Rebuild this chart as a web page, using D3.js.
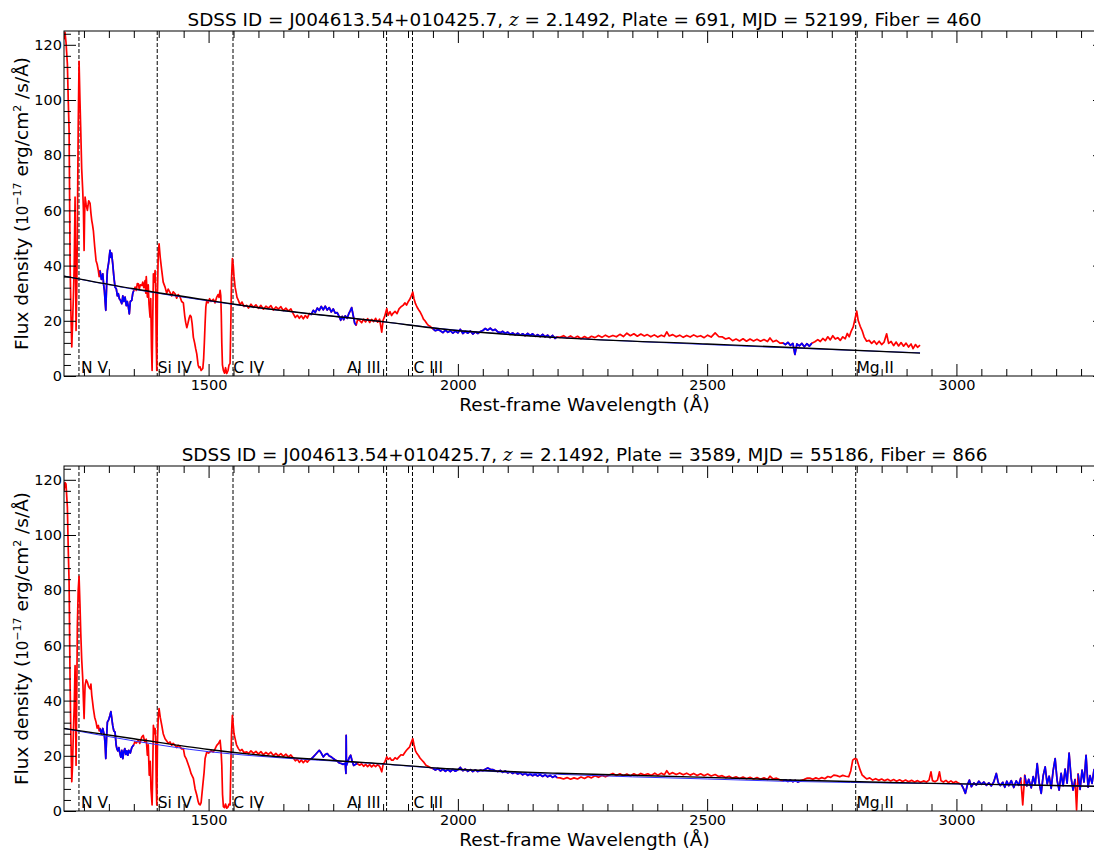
<!DOCTYPE html>
<html>
<head>
<meta charset="utf-8">
<script src="https://cdn.jsdelivr.net/npm/d3@7"></script>
<style>
  html, body { margin: 0; padding: 0; background: #fff; overflow: hidden; }
  svg { display: block; font-family: "DejaVu Sans", sans-serif; }
</style>
</head>
<body>
<svg id="chart" width="1094" height="850"></svg>
<script>
// ---------------- DATA ----------------
const sdssId = "J004613.54+010425.7";
const redshift = "2.1492";
const plates = ["691", "3589"];
const mjds = ["52199", "55186"];
const fibers = ["460", "866"];

const xMajorTicks = [1500, 2000, 2500, 3000];
const yMajorTicks = [0, 20, 40, 60, 80, 100, 120];

const lineNames = ["N V", "Si IV", "C IV", "Al III", "C III", "Mg II"];
const lineWaves = [1240, 1397, 1549, 1857, 1909, 2798];
const lineLabelWaves = [1244, 1398, 1549.5, 1845, 1911, 2799.5];
const lineLabelAnchor = ["start", "start", "start", "end", "start", "start"];

// spectrum epoch 1 (top) [rest wavelength, flux]
const specTop = [
[1210,122],[1212,124.5],[1214,121],[1216.8,113],[1218.5,100],[1220.2,89],[1222.2,41],[1224,22],[1225.6,10.5],[1227,18],[1228.8,28.6],[1230.5,40],[1232.2,64.8],[1233.2,40],[1234.2,16.5],[1235.5,30],[1236.8,52.7],[1238.5,90],[1240.2,114],[1242,100],[1243.6,89],[1245.5,75],[1247.6,67],[1249,60],[1250.3,45.5],[1251.3,58],[1252.3,64.8],[1254.5,62],[1256.9,60],[1259.5,63.5],[1262.3,62.5],[1264,59],[1265.7,56.3],[1267,55],[1268.9,52.7],[1271.5,47],[1274.3,41.8],[1276.5,40.5],[1278.9,38.2],[1280.5,36],
[1282.3,38.2],[1285,35],[1287.8,37],[1289.5,33],[1291,31],[1292.5,27],[1293.8,23.8],[1295.5,33],[1297,38.2],[1299.5,41],[1302.3,45.5],[1304,43],[1305.5,44.5],[1307.7,40.7],[1310,36],[1312.4,32.2],[1315,31.5],[1317,29],[1319,29.8],[1321,28],[1323,27.5],[1325.9,26.2],[1328,29],[1330,27],[1332.5,28.6],[1335,25.5],[1337,27],[1339.1,25],[1341,22.5],[1343,27],[1345.9,27.4],[1348,30],[1350,31],
[1352.6,32.2],[1355,31],[1357,33.5],[1359.2,33.4],[1361,31.5],[1363,33],[1366,32.8],[1368,34],[1370,32],[1372.7,34.6],[1374,30],[1375,36],[1377.2,28.6],[1379,33],[1380.5,26],[1382.6,21.3],[1384,28],[1385.5,10],[1386.7,2],[1388,20],[1389.3,37],[1391,34],[1392.7,38.2],[1394,30],[1395,12],[1396.1,2],[1397.5,30],[1399,44],[1400.7,47.9],[1403,43],[1406.1,38.2],[1409,34],[1412.7,32.2],[1416,30],[1419,31.5],[1422.8,30.2],[1426,29],[1429,30.5],[1432.8,29.8],[1436,28.2],[1439,29.5],[1442.8,28.6],[1446,27],[1449.4,26.5],[1452,22],[1454,19.5],[1456.3,17.5],[1458.5,19],[1461,21],[1463,22],[1465,21.5],[1467,19],[1469.5,14],[1472,12],[1474,10],[1476.3,8],[1479,4],[1481,3],[1483,3.3],[1485,2],[1488.4,2.7],[1490,6],[1491.5,12],[1493,19],[1494.5,25],[1496.4,27.4],[1499,26.5],[1502,28],[1505,27],[1509.6,27.8],[1513,26.5],[1516.4,28.6],[1519,29.5],[1521,28.5],[1523.1,31],[1524.5,29],[1525.5,22],[1526.5,12],[1527.8,4],[1529.7,2],[1532,1],[1534,3],[1536.5,0.9],[1539,2],[1541,4],[1543.1,4.5],[1544.5,18],[1546,35],[1547.7,42.5],[1549.5,40],[1551,36],[1553.2,32.2],[1555.5,30],[1557,28.5],[1559.8,27.4],[1563,25.8],[1567,26.8],[1571,25.2],[1576.6,25.6],
[1580,24.6],[1585,26],[1590,24.9],[1595,25.8],[1600,24.5],[1605,25.6],[1610,24.2],[1615,25.3],[1620,24.6],[1625,25.5],[1630,23.9],[1635,25],[1640,24.2],[1645,25.1],[1650,23.7],[1655,24.6],[1660,23.5],[1665,24.3],[1670,22.5],[1674,21.2],[1678,22],[1682,20.9],[1686,21.8],[1690,20.7],[1694,21.9],[1698,21],
[1702,22.6],[1706,22.3],[1710,23.8],[1714,23],[1718,24.6],[1722,23.8],[1726,25.2],[1730,24],[1734,25.3],[1738,23.9],[1742,24.8],[1746,23.2],[1750,24.3],[1754,22.8],[1758,23],[1762,21.5],[1765,20.2],[1768,21.6],[1771,20.4],[1774,21.8],[1778,20.9],[1781,22.5],[1784,23.6],[1787,24.8],[1790,22],[1793,19.2],[1796,18.4],
[1799,20.5],[1803,20.1],[1807,19.3],[1811,20.6],[1815,19.6],[1819,20.8],[1823,19.4],[1827,20.5],[1831,19.7],[1835,20.9],[1839,19.5],[1843,20.6],[1847.3,15.9],[1850,20.2],[1853,21.5],[1857.4,24.4],[1860,22],[1864,23.3],[1867,21.9],[1870,22.7],[1874,23.4],[1878,22.6],[1882,24.3],[1886,25.1],[1890,25.6],[1894,26.5],[1897,25.7],[1900,26.8],[1903,27.6],[1906,28.8],[1909.6,30.4],[1912,28],[1915,26.2],[1918,25],[1921,24.1],[1924,23.3],[1927.7,22],[1931,20.6],[1934,20],[1937.7,19],[1941,18.3],[1945,17.9],
[1950,17.1],[1955,16.4],[1960,16.8],[1964,16.5],[1970,15.7],[1975,16.6],[1980,15.8],[1985,16.4],[1990,15.5],[1995,16.3],[2000,15.6],[2005,16.9],[2010,15.4],[2015,16.2],[2020,15.5],[2025,16.3],[2030,15.2],[2035,16],[2040,15.4],[2045,16.1],[2050,16.5],[2055,17.2],[2060,16.6],[2065,17.3],[2070,16.5],[2075,16.9],[2080,16],[2085,15.7],[2090,16.2],[2095,15.4],[2100,15.9],[2105,15.1],[2110,15.6],[2115,14.9],[2120,15.5],[2125,14.8],[2130,15.3],[2135,14.6],[2140,15.4],[2145,14.7],[2150,15.3],[2155,14.4],[2160,15],[2165,14.3],[2170,15.1],[2175,14.2],[2180,14.8],[2185,13.9],[2190,14.7],[2195,13.6],[2199,14.2],
[2205,14],[2212,14.6],[2219,13.8],[2226,14.5],[2233,13.7],[2240,14.4],[2247,13.5],[2254,14.3],[2261,13.6],[2268,14.4],[2275,13.9],[2282,14.7],[2289,14],[2296,14.8],[2303,14.1],[2311,14.7],[2318,14.2],[2325,15.1],[2332,14.3],[2339,15.5],[2346,14.6],[2353,15.3],[2360,14.4],[2367,15.2],[2374,14.5],[2380,15],[2387,14.2],[2394,14.9],[2401,14.1],[2408,14.8],[2414,14.3],[2419,16],[2424,14.5],[2431,15],[2438,14.2],[2445,14.8],[2452,14],[2459,14.7],[2466,14.1],[2473,14.9],[2480,14.2],[2487,14.6],[2494,13.9],[2501,14.8],[2508,14.1],[2516,15.6],[2523,14.3],[2530,14.2],[2537,13.4],[2544,13.8],[2551,12.8],[2558,13.4],[2565,12.7],[2572,13.5],[2579,12.6],[2586,13.4],[2593,12.7],[2600,13.3],[2607,12.6],[2614,13.2],[2621,12.5],[2626,13.8],[2632,12.4],[2639,12.9],[2646,11.9],
[2652,12],[2657,11.4],[2662,12.2],[2667,11.1],[2672,11.8],[2676,7.8],[2680,11.6],[2685,10.9],[2690,11.8],[2695,10.6],[2700,11.7],[2705,10.8],[2710,11.9],
[2716,12.4],[2722,13.2],[2727,12.5],[2732,13.6],[2737,12.8],[2742,14.2],[2747,13.1],[2752,14.6],[2757,13.4],[2762,13.9],[2767,12.9],[2772,14.2],[2777,13.5],[2781,15.4],[2785,14.2],[2789,16.3],[2793,17.8],[2797,21],[2800,23.5],[2803,20.1],[2807,18],[2811,16.4],[2815,14.1],[2820,12.6],[2825,12.9],[2830,11.8],[2835,12.7],[2840,11.5],[2845,12.6],[2850,11.4],[2855,12.3],[2860,15.3],[2864,11.8],[2869,12.5],[2874,11],[2879,12.3],[2884,10.9],[2889,12.1],[2894,10.8],[2899,11.9],[2904,10.5],[2909,11.6],[2913,9.9],[2918,11.4],[2922,10.4],[2927,11.2]
];

// spectrum epoch 2 (bottom)
const specBottom = [
[1210,116],[1212,119],[1214,118.5],[1216.8,110],[1218.5,95],[1220.2,83],[1222.2,46.7],[1224,25],[1225.6,10.6],[1227,16],[1228.8,28.6],[1230.5,38],[1232.2,52.7],[1233.2,35],[1234.2,16.6],[1235.5,40],[1236.8,67],[1238.5,80],[1240.2,85],[1242,75],[1243.6,64.7],[1245.5,55],[1247.6,47.9],[1249,40],[1250.3,33.5],[1251.3,40],[1252.3,45.5],[1254.5,47.5],[1256.9,46.7],[1259.5,45],[1262.3,44.3],[1264,46],[1265.7,41.9],[1267,40],[1268.9,37.1],[1271.5,34],[1274.3,32.2],[1276.5,30],[1278.9,31],[1280.5,29],
[1282.3,29.9],[1285,28],[1287.8,29.9],[1289.5,28.5],[1291,27.4],[1292.5,24],[1293.8,19],[1295.5,27],[1297,32.2],[1299.5,33],[1302.3,34.7],[1304,36],[1305.5,34],[1307.7,31],[1310,29],[1312.4,28.6],[1314.5,24],[1316,22.6],[1318,21.8],[1320,23],[1322,21],[1324,19.5],[1326,22],[1328,19],[1330,21.5],[1332,22.6],[1334,20.5],[1336,21.8],[1338,20.2],[1340,22],[1343,21],[1346,23],[1350,24],
[1352,25],[1355,24.6],[1359.2,25.6],[1362,24.5],[1366,26.8],[1369,27.4],[1372,25],[1375,26],[1377.2,20.2],[1379,24],[1381,13],[1383,18],[1384.5,8],[1386.7,2.2],[1388,15],[1389.3,31],[1391,28],[1392.7,29.9],[1394,25],[1395,10],[1396.1,2.2],[1397.5,25],[1399,34],[1400.7,37.1],[1403,34],[1406.1,31],[1409,28],[1412.7,26.2],[1416,25.4],[1419,24.5],[1422.8,25],[1426,23.8],[1429,24.5],[1432.8,23.8],[1436,23],[1439,23.8],[1442.8,23.2],[1446,22.5],[1449.4,22.6],[1452,20],[1455,19],[1458,17.5],[1462,15.4],[1465,13.5],[1469.5,11.8],[1473,8],[1476.3,5.8],[1479,3.5],[1481,2.5],[1483,2.2],[1485,3],[1488.4,9.4],[1491,14],[1493,19],[1496.4,21.4],[1500,21],[1505,21.8],[1509.6,21.4],[1513,22.5],[1516.4,23.8],[1520,24.5],[1523.1,25.6],[1525,22],[1526.5,16.6],[1528,6],[1529.7,1.6],[1532,1.2],[1534,2.5],[1536.5,1],[1539,1.5],[1541,2.5],[1543.1,2.2],[1544.5,15],[1546,28],[1547.7,34.7],[1549.5,31],[1551,28],[1553.2,26.2],[1556,24],[1559.8,22.6],[1563,21.8],[1567,22.3],[1571,21.2],[1576.6,21.4],
[1580,20.8],[1585,21.8],[1590,20.9],[1595,21.6],[1600,20.6],[1605,21.5],[1610,20.4],[1615,21.2],[1620,20.5],[1625,21.3],[1630,20.1],[1635,20.9],[1640,20],[1645,20.8],[1650,19.8],[1655,20.6],[1660,19.6],[1665,20.3],[1670,19.2],[1674,18.2],[1678,18.8],[1682,17.6],[1686,18.5],[1690,17.5],[1694,18.4],[1698,17.7],
[1702,18.6],[1706,18.9],[1710,19.6],[1714,20.4],[1718,21.2],[1722,22],[1726,21],[1730,19.6],[1734,20.5],[1738,20.8],[1742,19.9],[1746,19.6],[1750,19],[1754,18.5],[1758,18.1],[1762,17.4],[1766,17.2],[1770,16.9],[1774,17.3],[1775.5,13.6],[1776,27.4],[1776.5,16.5],[1779,17.8],[1782,19.3],[1785,20.2],[1788,18],[1791,16.5],[1795,16.9],[1798,17.2],
[1803,16.6],[1807,17.1],[1811,16.2],[1815,16.9],[1819,16.1],[1823,16.8],[1827,16],[1831,16.7],[1835,16.1],[1839,16.8],[1843,16.2],[1847.3,14.2],[1850,16.8],[1854,18],[1857.4,19.6],[1860,18.7],[1864,19.2],[1867,18.4],[1870,18.4],[1874,19.3],[1878,18.8],[1882,19.6],[1886,20.4],[1890,20.2],[1894,21.3],[1897,22],[1900,22.6],[1903,23.1],[1906,24.6],[1909.6,26.2],[1912,24],[1915,21.8],[1918,20.8],[1921,20.1],[1924,19.2],[1928,18.4],[1932,17.6],[1936,16.6],[1940,16.2],[1945,15.7],
[1950,15.4],[1955,14.8],[1960,15.4],[1965,14.5],[1970,15.2],[1975,14.4],[1980,15],[1985,14.3],[1990,15.1],[1995,14.4],[2000,14.9],[2005,15.8],[2010,14.6],[2015,15.2],[2020,14.4],[2025,15],[2030,14.3],[2035,14.9],[2040,14.3],[2045,14.8],[2050,14.6],[2055,15.1],[2060,15.6],[2065,15.1],[2070,15],[2075,14.6],[2080,14.3],[2085,14.7],[2090,14],[2095,14.5],[2100,13.8],[2105,14.2],[2110,13.6],[2115,14.1],[2120,13.4],[2125,13.8],[2130,13.1],[2135,13.7],[2140,12.9],[2145,13.4],[2150,12.8],[2155,13.3],[2160,12.7],[2165,13.2],[2170,12.5],[2175,13.1],[2180,12.4],[2185,12.9],[2190,12.2],[2195,12.7],[2199,12.1],
[2205,12],[2212,11.6],[2219,12.1],[2226,11.5],[2233,12],[2240,11.6],[2247,12.3],[2254,11.8],[2261,12.5],[2268,12],[2275,12.8],[2282,12.2],[2289,12.9],[2296,12.4],[2303,13],[2311,13.6],[2318,12.9],[2325,13.5],[2332,12.8],[2339,13.4],[2346,12.7],[2353,13.5],[2360,12.9],[2367,13.6],[2374,13],[2381,13.5],[2388,12.9],[2395,13.7],[2401,13],[2408,13.7],[2414,13.1],[2419,14.6],[2424,13.3],[2431,13.9],[2438,13.2],[2445,13.8],[2452,13.1],[2459,13.7],[2466,13],[2473,13.6],[2480,12.9],[2487,13.5],[2494,12.8],[2501,13.4],[2508,12.7],[2516,13.2],[2523,12.5],[2530,12.8],[2537,12.1],[2544,12.6],[2551,11.9],[2558,12.4],[2565,11.8],[2572,12.3],[2579,11.7],[2586,12.2],[2593,11.6],[2600,12.1],[2607,11.5],[2614,12],[2621,11.4],[2626,12.6],[2632,11.6],[2639,11.9],[2646,11.3],
[2652,11],[2657,11.3],[2662,10.7],[2667,11.2],[2672,10.6],[2677,11.1],[2682,10.5],[2688,11],
[2694,11.4],[2700,11.9],[2706,11.9],[2712,11.5],[2718,12],[2724,11.6],[2730,12.1],[2736,11.7],[2742,12.5],[2748,12.2],[2754,13],[2760,12.8],[2766,12.4],[2772,12.9],[2778,12.6],[2784,12.4],[2788,14.5],[2792,18.4],[2796,19],[2800,18.8],[2804,16.5],[2807,14.8],[2811,13],[2815,12.4],[2820,11.6],[2826,12],[2832,11.2],[2838,11.7],[2844,11.1],[2850,11.6],[2856,11],[2862,11.5],[2868,10.9],[2874,11.4],[2880,10.8],[2886,11.3],[2892,10.7],[2898,11.2],[2904,10.6],[2910,11.1],[2916,10.5],[2922,11],[2928,10.4],[2934,10.9],[2940,10.5],[2945,11.2],[2949,14.2],[2952,11],[2957,10.6],[2962,11.2],[2966,14.2],[2969,11],[2974,10.5],[2979,11.1],[2984,10.3],[2989,10.9],[2994,10.2],[2999,10.7],[3004,10.1],
[3010,9.6],[3014,8.2],[3018,6.4],[3022,9.5],[3026,11.2],[3030,8.8],[3035,10.2],[3040,9.4],[3045,10.8],[3050,9.7],[3055,10.5],[3060,9.3],[3065,10.2],[3070,9.1],[3075,10.6],[3080,13.6],[3084,10.2],[3088,9.2],[3093,10.4],[3097,8.6],[3101,10.8],[3105,9.2],[3110,11],[3115,8.5],[3120,10.9],[3125,9.3],[3129,12],[3133,2.2],[3137,13],[3141,9.1],[3145,11.5],[3150,8.4],[3154,12.5],[3158,9.6],[3162,17.2],[3166,10.2],[3170,6.4],[3174,12.8],[3178,16],[3182,9.8],[3186,12.6],[3190,8.2],[3194,14.6],[3198,19],[3202,11],[3206,7.6],[3210,13.6],[3214,9.2],[3218,15.2],[3222,10.1],[3226,21],[3230,12],[3234,7.6],[3238,11.5],[3241,0.4],[3244,13.5],[3248,7.8],[3252,14.8],[3256,10.5],[3260,20.2],[3264,8.6],[3268,12.8],[3272,10],[3276,15],[3280,8.4],[3284,13.2],[3288,9.6],[3292,16.5],[3296,10.2],[3300,12.4]
];

// continuum-fit windows (drawn blue) and masked pixels
const blueWinTop = [[1282,1350],[1700,1797],[1950,2199],[2652,2710]];
const blueWinBottom = [[1282,1350],[1700,1798],[1950,2199],[2652,2688],[3008,3300]];
const maskedTop = [];
const maskedBottom = [3133, 3241];

// power-law continuum fits
const fitBlackTop = [[1210,36.2],[1350,31.6],[1500,27.4],[1583,25.2],[1857,19.5],[1964,17.1],[2200,13.9],[2500,11.6],[2646,10.5],[2927,8.3]];
const fitBlueTop  = [[1210,36.2],[1350,31.4],[1500,27.2],[1583,25.1],[1857,19.5],[1964,17.2],[2200,14.0],[2500,11.4],[2646,10.3],[2927,8.4]];
const fitBlackBottom = [[1210,29.9],[1350,26.2],[1500,22.3],[1583,20.6],[1857,17.0],[1964,15.5],[2200,13.7],[2500,12.2],[2646,11.3],[2930,10.1],[3300,8.9]];
const fitBlueBottom  = [[1210,29.9],[1350,25.4],[1500,21.5],[1583,20.1],[1857,16.9],[1964,15.4],[2200,13.3],[2500,11.6],[2646,10.8],[2930,10.0],[3300,8.9]];

// ---------------- LAYOUT ----------------
const svg = d3.select("#chart");
const L = 64, R = 1105;
const panels = [
  { top: 31, bottom: 376, spec: specTop, win: blueWinTop, masked: maskedTop, fitK: fitBlackTop, fitB: fitBlueTop },
  { top: 466, bottom: 811, spec: specBottom, win: blueWinBottom, masked: maskedBottom, fitK: fitBlackBottom, fitB: fitBlueBottom }
];

const x = d3.scaleLinear().domain([1210, 3298]).range([L, R]);
const xMinor = d3.range(1250, 3300, 50).filter(v => !xMajorTicks.includes(v));
const yMinor = d3.range(0, 125, 4).filter(v => !yMajorTicks.includes(v));

panels.forEach((p, k) => {
  const y = d3.scaleLinear().domain([0, 125]).range([p.bottom, p.top]);
  const g = svg.append("g");
  const clipId = "clip" + k;
  svg.append("defs").append("clipPath").attr("id", clipId)
    .append("rect").attr("x", L).attr("y", p.top).attr("width", R - L).attr("height", p.bottom - p.top);

  const plot = g.append("g").attr("clip-path", `url(#${clipId})`);

  // emission-line markers
  lineWaves.forEach(w => {
    plot.append("line")
      .attr("x1", x(w)).attr("x2", x(w))
      .attr("y1", p.top).attr("y2", p.bottom)
      .attr("stroke", "#000").attr("stroke-width", 1)
      .attr("stroke-dasharray", "4,2");
  });

  const line = d3.line().x(d => x(d[0])).y(d => y(d[1]));
  plot.append("path").datum(p.spec)
    .attr("d", line)
    .attr("fill", "none").attr("stroke", "#ff0000").attr("stroke-width", 1.7)
    .attr("stroke-linejoin", "round");
  const inWin = w => p.win.some(r => w >= r[0] && w <= r[1]);
  const blueLine = d3.line().defined(d => inWin(d[0]) && !p.masked.includes(d[0]))
    .x(d => x(d[0])).y(d => y(d[1]));
  plot.append("path").datum(p.spec)
    .attr("d", blueLine)
    .attr("fill", "none").attr("stroke", "#0000ff").attr("stroke-width", 1.7)
    .attr("stroke-linejoin", "round");

  const fitLine = d3.line().curve(d3.curveMonotoneX).x(d => x(d[0])).y(d => y(d[1]));
  plot.append("path").datum(p.fitB).attr("d", fitLine)
    .attr("fill", "none").attr("stroke", "#3030ff").attr("stroke-width", 1);
  plot.append("path").datum(p.fitK).attr("d", fitLine)
    .attr("fill", "none").attr("stroke", "#000").attr("stroke-width", 1.4);

  lineNames.forEach((n, j) => {
    g.append("text")
      .attr("x", x(lineLabelWaves[j]))
      .attr("y", p.bottom - 3.5)
      .attr("text-anchor", lineLabelAnchor[j])
      .attr("font-size", "15.5px")
      .attr("fill", "#000")
      .text(n);
  });

  const styleAxis = sel => {
    sel.select(".domain").remove();
    sel.selectAll("line").attr("stroke", "#000").attr("stroke-width", 1);
    sel.selectAll("text").attr("font-size", "14.5px").attr("fill", "#000")
      .attr("font-family", "DejaVu Sans, sans-serif");
  };
  g.append("g").attr("transform", `translate(0,${p.bottom})`)
    .call(d3.axisBottom(x).tickValues(xMajorTicks).tickSize(-12).tickPadding(4).tickFormat(d3.format("d")))
    .call(styleAxis);
  g.append("g").attr("transform", `translate(0,${p.bottom})`)
    .call(d3.axisBottom(x).tickValues(xMinor).tickSize(-7).tickFormat(""))
    .call(styleAxis);
  g.append("g").attr("transform", `translate(0,${p.top})`)
    .call(d3.axisTop(x).tickValues(xMajorTicks).tickSize(-12).tickFormat(""))
    .call(styleAxis);
  g.append("g").attr("transform", `translate(0,${p.top})`)
    .call(d3.axisTop(x).tickValues(xMinor).tickSize(-7).tickFormat(""))
    .call(styleAxis);
  g.append("g").attr("transform", `translate(${L},0)`)
    .call(d3.axisLeft(y).tickValues(yMajorTicks).tickSize(-12).tickPadding(2).tickFormat(d3.format("d")))
    .call(styleAxis);
  g.append("g").attr("transform", `translate(${L},0)`)
    .call(d3.axisLeft(y).tickValues(yMinor).tickSize(-7).tickFormat(""))
    .call(styleAxis);
  g.append("g").attr("transform", `translate(${R},0)`)
    .call(d3.axisRight(y).tickValues(yMajorTicks).tickSize(-12).tickFormat(""))
    .call(styleAxis);
  g.append("g").attr("transform", `translate(${R},0)`)
    .call(d3.axisRight(y).tickValues(yMinor).tickSize(-7).tickFormat(""))
    .call(styleAxis);

  g.append("rect").attr("x", L).attr("y", p.top).attr("width", R - L).attr("height", p.bottom - p.top)
    .attr("fill", "none").attr("stroke", "#000").attr("stroke-width", 1);

  const t = g.append("text").attr("x", (L + R) / 2).attr("y", p.top - 5)
    .attr("text-anchor", "middle").attr("font-size", "18.4px").attr("fill", "#000");
  t.append("tspan").text(`SDSS ID = ${sdssId}, `);
  t.append("tspan").attr("font-family", "DejaVu Serif, serif").attr("font-style", "italic").text("z");
  t.append("tspan").text(` = ${redshift}, Plate = ${plates[k]}, MJD = ${mjds[k]}, Fiber = ${fibers[k]}`);

  g.append("text").attr("x", (L + R) / 2).attr("y", p.bottom + 35)
    .attr("text-anchor", "middle").attr("font-size", "18.5px").attr("fill", "#000")
    .text("Rest-frame Wavelength (Å)");

  const yl = g.append("text")
    .attr("transform", `translate(28,${(p.top + p.bottom) / 2}) rotate(-90)`)
    .attr("text-anchor", "middle").attr("font-size", "18.5px").attr("fill", "#000");
  yl.append("tspan").text("Flux density (");
  yl.append("tspan").attr("font-size", "15px").text("10");
  yl.append("tspan").attr("font-size", "11px").attr("dy", "-7").text("−17");
  yl.append("tspan").attr("dy", "7").text(" erg/cm");
  yl.append("tspan").attr("font-size", "11px").attr("dy", "-7").text("2");
  yl.append("tspan").attr("dy", "7").text(" /s/Å)");
});
</script>
</body>
</html>
